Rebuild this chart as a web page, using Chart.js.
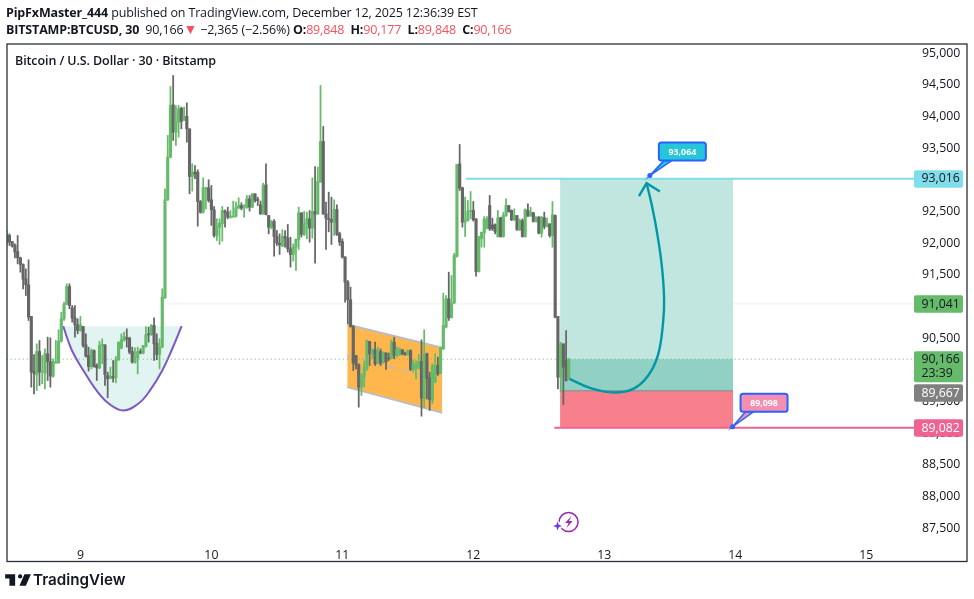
<!DOCTYPE html>
<html><head><meta charset="utf-8">
<script src="https://cdn.jsdelivr.net/npm/chart.js@4"></script>
<style>
html,body{margin:0;padding:0;background:#fff;width:974px;height:599px;overflow:hidden}
#wrap{position:relative;width:974px;height:599px}
canvas{position:absolute;left:0;top:0}
.t{position:absolute;white-space:nowrap;font-family:"Open Sans",sans-serif;color:#131722}
.t b{font-weight:700}.r{color:#f7525f}
</style></head><body>
<div id="wrap">
<canvas id="c" width="974" height="599"></canvas>
<div class="t" style="left:6px;top:4px;font-size:12.5px;line-height:18px;letter-spacing:-.15px"><b>PipFxMaster_444</b> published on TradingView.com, December 12, 2025 12:36:39 EST</div>
<div class="t" style="left:6px;top:21px;font-size:12.5px;line-height:18px;letter-spacing:-.15px"><b>BITSTAMP:BTCUSD, 30</b>&nbsp; 90,166<span class="r" style="font-size:14px;line-height:14px">▼</span> −2,365 (−2.56%) <b>O:</b><span class="r">89,848</span> &nbsp;<b>H:</b><span class="r">90,177</span> &nbsp;<b>L:</b><span class="r">89,848</span> &nbsp;<b>C:</b><span class="r">90,166</span></div>
<div class="t" style="left:15px;top:52px;font-size:12.5px;line-height:18px;font-weight:600;letter-spacing:-.1px">Bitcoin / U.S. Dollar · 30 · Bitstamp</div>
<svg style="position:absolute;left:5px;top:570px" width="26" height="20" viewBox="0 0 36 28"><path fill="#131722" d="M14 6H0v6h6v10h8V6zm15 16h-9l7-16h9l-7 16zm-8-10a3 3 0 1 0 0-6 3 3 0 0 0 0 6z"/></svg>
<div class="t" style="left:33px;top:570px;font-family:Inter,sans-serif;font-size:15.2px;line-height:20px;font-weight:600">TradingView</div>
</div>
<script>
// Candle number of the first bar, counted in 30-minute bars from 9 Dec 00:00
const firstBar = -27;
const opens = [92013,92119,92024,91961,91866,91766,91661,91435,91340,90840,89971,89919,90287,89961,89945,90250,90129,89898,90103,90108,90450,90803,91029,91313,90977,90819,90708,90619,90682,90393,90224,90050,90303,90066,90029,90382,90393,89908,89866,89893,89871,90156,90340,90461,90498,90498,90287,90119,90187,90287,90261,90371,90566,90556,90698,90419,90240,90356,91135,92682,93356,94182,93750,93908,94129,93935,93998,93803,93050,93119,93119,92656,92487,92856,92871,92682,92524,92119,92250,92303,92503,92487,92408,92408,92424,92556,
92592,92582,92556,92698,92566,92777,92682,92603,92461,92919,92435,92250,92340,92103,91998,91950,92103,92077,91908,91819,91935,92056,92477,92135,92303,92382,92235,92498,92456,92961,93603,92461,92382,92371,92329,92529,92145,92024,91777,91382,91103,90682,90224,90077,89724,89882,90013,90445,90250,90314,90103,90287,90119,90266,90187,90182,90435,90224,90240,90314,90250,90240,90303,90003,90024,90024,90129,89540,90250,89871,89514,89803,90066,89950,90329,90671,91119,90819,91056,91792,93250,92871,92329,92356,92498,92513,92382,91550,
92066,92160,92234,92592,92287,92287,92102,92397,92102,92434,92592,92513,92365,92434,92208,92355,92102,92513,92434,92476,92344,92408,92155,92397,92260,92302,92118,92434,90840,89881,90408,90145,89848];
const highs = [92198,92145,92024,91987,92119,91777,91671,91592,91735,90840,90240,90408,90461,90224,90329,90514,90503,90172,90461,90630,90908,91066,91356,91356,91013,91013,90803,90840,90682,90566,90356,90329,90314,90093,90450,90487,90393,89961,90040,90145,90208,90435,90566,90593,90645,90514,90356,90345,90356,90329,90382,90682,90671,90714,90819,90566,90487,91277,92856,93698,94471,94645,94171,94171,94145,94145,94213,93803,93250,93224,93156,92671,93029,92882,92998,92908,92577,92382,92382,92577,92524,92566,92513,92661,92645,92714,
92635,92603,92750,92750,92777,92777,92724,92661,92945,93250,92435,92356,92371,92198,92145,92208,92198,92292,92093,91987,92066,92566,92477,92498,92487,92513,93029,93208,93198,94487,93840,92645,92803,92724,92682,92603,92171,92066,91787,91408,91303,90698,90224,90093,89935,90135,90471,90445,90329,90435,90356,90329,90277,90266,90261,90471,90514,90356,90345,90314,90277,90314,90314,90156,90145,90240,90471,90630,90261,89961,90093,90250,90198,90356,91208,91171,91540,91487,91840,93240,93556,92882,92724,92671,92813,92656,92382,92103,
92171,92418,92418,92750,92392,92302,92513,92408,92487,92697,92592,92523,92539,92434,92381,92381,92539,92618,92565,92487,92418,92418,92418,92487,92397,92302,92655,92444,90840,90434,90408,90618,90177];
const lows = [91961,91961,91935,91766,91671,91540,91277,91171,90777,89724,89619,89672,89750,89777,89698,89829,89724,89882,90103,90103,90435,90777,91029,90961,90750,90514,90566,90608,90356,90198,89977,90013,90040,89829,90013,90093,89750,89556,89856,89803,89793,90145,90329,90450,90356,90250,90103,90103,89935,90250,90250,90356,90435,90540,90145,90156,90013,90345,91124,92671,93345,93619,93540,93671,93803,93935,93592,92777,92819,93014,92266,92471,92471,92540,92645,92277,92093,92040,91977,92029,92250,92382,92392,92408,92408,92540,
92524,92408,92550,92503,92556,92645,92592,92450,92450,92445,92145,92224,91792,91961,91819,91945,91935,91856,91619,91714,91566,91898,92093,92119,92066,92013,92077,91682,92456,92961,92450,91898,92177,91977,92119,92119,91961,91761,91066,90724,90671,89987,90013,89408,89593,89724,89987,90066,90172,90066,90093,90066,90103,90003,90145,90172,90172,90198,90224,90235,90224,90224,89987,89961,89856,90013,89266,89398,89540,89356,89461,89793,89908,89935,90319,90661,90777,90819,91040,91777,92829,92250,92103,92345,92382,92345,91477,91540,
91934,91934,92223,92197,92197,92144,92092,92092,92092,92418,92487,92355,92355,92197,92197,92092,92092,92418,92418,92329,92329,92144,92092,92223,92250,92092,91934,90818,89697,89644,89450,89818,89848];
const closes = [92135,92013,91950,91856,91766,91661,91429,91340,90829,89961,89945,90287,89961,89971,90250,90129,89898,90129,90119,90450,90803,91029,91313,91013,90814,90708,90619,90708,90382,90213,90050,90303,90050,90029,90382,90393,89924,89856,89893,89871,90156,90435,90471,90524,90487,90277,90119,90198,90287,90266,90382,90550,90550,90698,90408,90240,90356,91145,92682,93356,94171,93750,93908,94119,93919,93998,93803,93050,93119,93092,92656,92487,92871,92871,92671,92524,92119,92261,92313,92513,92487,92408,92424,92424,92556,92592,
92550,92592,92698,92566,92777,92671,92671,92461,92908,92450,92250,92340,92103,91998,91971,92103,92077,91908,91819,91935,92056,92477,92135,92303,92382,92235,92498,92456,92971,93603,92461,92392,92371,92329,92529,92135,92013,91777,91382,91103,90682,90103,90077,89724,89908,90040,90461,90250,90314,90093,90303,90103,90277,90119,90172,90435,90224,90314,90324,90245,90240,90303,90003,90093,90093,90129,89551,90250,89866,89524,90066,90066,89935,90340,90698,91119,90819,91056,91803,93240,92866,92329,92366,92503,92513,92366,91550,92103,
92171,92381,92381,92223,92223,92181,92397,92102,92434,92592,92497,92365,92434,92213,92355,92102,92529,92423,92487,92344,92408,92155,92408,92260,92313,92118,92444,90829,89881,90408,90039,89829,90166];

// Day labels: one every 48 bars
const dayNumbers = [9,10,11,12,13,14,15];
const barsPerDay = 48;
const yTicks = [87500,88000,88500,89000,89500,90000,90500,91000,91500,92000,92500,93000,93500,94000,94500,95000];

// Drawings, in chart units (bar number, price)
const cupBars   = [-6.3,-3.1,1.1,5.9,10.5,15.7,21.2,25.5,30,33.4,37.1];
const cupPrices = [90687,90303,89987,89672,89461,89356,89461,89672,89987,90303,90687];
const channelBars = [97.8,132.6];
const channelTop = [90714,90345];
const channelMid = [90224,89819];
const channelBot = [89724,89319];
const boxBars = [175.8,239.2];
const targetPrice = 93016, entryPrice = 89667, stopPrice = 89082, lastPrice = 90166, levelPrice = 91041;
const targetLineBars = [141.3,305.5];
const stopLineBars = [173.7,305.5];
const levelLineBars = [31.3,305.5];
const lastLineBars = [-27,305.5];
const arrowBars   = [179.2,186.7,195.3,202.6,208.1,211.8,213.6,213.9,213,211.2,209.3,207.5];
const arrowPrices = [89855,89713,89639,89697,89908,90250,90776,91144,91671,92197,92618,92944];
const headBars   = [204.7,207.5,212.4];
const headPrices = [92739,92944,92813];
const noteBars   = [208.7,239];
const notePrices = [93064,89098];
const noteTexts  = ["93,064","89,098"];
const tagPrices = [93016,91041,90166,89667,89082];
const tagTexts  = ["93,016","91,041","90,166","89,667","89,082"];
const iconBar = 178.9, iconPrice = 87594;

const UP="#66bb6a", DOWN="#666666";
const colors = closes.map((c,i)=> c>=opens[i] ? UP : DOWN);
const pts=(xs,ys)=>xs.map((x,i)=>({x,y:ys[i]}));
const flat=(xs,v)=>xs.map(x=>({x,y:v}));
const base={type:'line',pointRadius:0,pointHoverRadius:0,fill:false,borderWidth:2};
const FONT='"Open Sans",sans-serif';

const tagStyle=[
 {bg:"#80deea",fg:"#131722",dy:0},
 {bg:"#66bb6a",fg:"#131722",dy:0},
 {bg:"#66bb6a",fg:"#131722",top:-8,h:31,sub:"23:39"},
 {bg:"#808080",fg:"#ffffff",dy:2},
 {bg:"#f06292",fg:"#ffffff",dy:0}
];
const noteStyle=[{bg:"#26c6da",dx:9,dy:-33},{bg:"#f48fb1",dx:8,dy:-33}];

const overlay={id:'overlay',afterDraw(ch){
  const g=ch.ctx,X=ch.scales.x,Y=ch.scales.y;
  g.save();
  // callouts
  noteBars.forEach((b,i)=>{
    const x=X.getPixelForValue(b),y=Y.getPixelForValue(notePrices[i]),s=noteStyle[i];
    const bx=x+s.dx,by=y+s.dy,w=47,h=18;
    g.beginPath();g.moveTo(x,y);g.lineTo(bx+5,by+h);g.lineTo(bx+13,by+h);g.closePath();
    g.fillStyle=s.bg;g.strokeStyle="#2962ff";g.lineWidth=1.5;g.fill();g.stroke();
    g.beginPath();g.roundRect(bx,by,w,h,2.5);g.fillStyle=s.bg;g.fill();g.lineWidth=2;g.stroke();
    g.fillStyle="#fff";g.font='700 8.8px '+FONT;g.textAlign='center';g.textBaseline='middle';
    g.fillText(noteTexts[i],bx+w/2,by+h/2+.5);
    g.beginPath();g.arc(x,y,2.5,0,7);g.fillStyle="#2962ff";g.fill();
  });
  // icon
  const ix=X.getPixelForValue(iconBar),iy=Y.getPixelForValue(iconPrice);
  g.beginPath();g.arc(ix,iy,9.5,0,7);g.strokeStyle="#9c27b0";g.lineWidth=1.5;g.stroke();
  g.beginPath();g.moveTo(ix+3,iy-6);g.lineTo(ix-3.5,iy+1);g.lineTo(ix,iy+1);g.lineTo(ix-2,iy+6);g.lineTo(ix+4,iy-1);g.lineTo(ix+.5,iy-1);g.closePath();
  g.fillStyle="#9c27b0";g.fill();
  const sx=ix-11,sy=iy+4;
  g.beginPath();g.arc(sx,sy,4.5,0,7);g.fillStyle="#fff";g.fill();
  g.beginPath();g.moveTo(sx,sy-4.5);g.lineTo(sx+1.2,sy-1.2);g.lineTo(sx+4.5,sy);g.lineTo(sx+1.2,sy+1.2);g.lineTo(sx,sy+4.5);g.lineTo(sx-1.2,sy+1.2);g.lineTo(sx-4.5,sy);g.lineTo(sx-1.2,sy-1.2);g.closePath();
  g.fillStyle="#6a3df0";g.fill();
  // price tags
  tagPrices.forEach((p,i)=>{
    const s=tagStyle[i],y=Y.getPixelForValue(p);
    const top=s.top!==undefined?y+s.top:y-8.5+s.dy,h=s.h||17.5;
    g.beginPath();g.roundRect(914,top,49,h,2);g.fillStyle=s.bg;g.fill();
    g.fillStyle=s.fg;g.font='12.3px '+FONT;g.textAlign='left';g.textBaseline='middle';
    g.fillText(tagTexts[i],921.5,top+8.8);
    if(s.sub)g.fillText(s.sub,921.5,top+22.3);
  });
  // frame
  g.strokeStyle="#2a2e39";g.lineWidth=1.3;g.strokeRect(7,44,960,517.5);
  g.restore();
}};

new Chart(document.getElementById('c'),{
  type:'bar',
  plugins:[overlay],
  data:{datasets:[
    {...base,label:'Cup',order:30,data:pts(cupBars,cupPrices),tension:.4,borderColor:"#7e57c2",backgroundColor:"#e2f4f1",fill:{value:cupPrices[0]}},
    {...base,label:'Channel top',order:29,data:pts(channelBars,channelTop),borderColor:"#bdbdbd",backgroundColor:"#ffb74d",fill:'+1'},
    {...base,label:'Channel bottom',order:28,data:pts(channelBars,channelBot),borderColor:"#bdbdbd"},
    {...base,label:'Channel mid',order:27,data:pts(channelBars,channelMid),borderColor:"#c9bba5",borderDash:[8,6]},
    {...base,label:'Target zone',order:26,data:flat(boxBars,targetPrice),borderWidth:0,backgroundColor:"#c1e6df",fill:{value:entryPrice}},
    {...base,label:'Open profit',order:25,data:flat(boxBars,lastPrice),borderWidth:0,backgroundColor:"#91d1c4",fill:{value:entryPrice}},
    {...base,label:'Stop zone',order:24,data:flat(boxBars,entryPrice),borderWidth:1,borderColor:"#7a8f8a",backgroundColor:"#f7808c",fill:{value:stopPrice}},
    {...base,label:'Level',order:31,data:flat(levelLineBars,levelPrice),borderColor:"#f4f7f2"},
    {...base,label:'Last',order:22,data:flat(lastLineBars,lastPrice),borderWidth:1,borderColor:UP,borderDash:[1,3]},
    {...base,label:'Wicks',type:'bar',order:6,grouped:false,barThickness:1.1,backgroundColor:colors,borderWidth:0,data:closes.map((c,i)=>({x:firstBar+i,y:[lows[i],highs[i]]}))},
    {...base,label:'Bodies',type:'bar',order:5,grouped:false,barThickness:2.5,minBarLength:1,backgroundColor:colors,borderWidth:0,data:closes.map((c,i)=>({x:firstBar+i,y:[Math.min(c,opens[i]),Math.max(c,opens[i])]}))},
    {...base,label:'Target',order:3,data:flat(targetLineBars,targetPrice),borderColor:"#80deea"},
    {...base,label:'Stop',order:3,data:flat(stopLineBars,stopPrice),borderColor:"#f06292"},
    {...base,label:'Arrow',order:2,data:pts(arrowBars,arrowPrices),tension:.4,borderWidth:2.4,borderColor:"#0097a7"},
    {...base,label:'Arrow head',order:1,data:pts(headBars,headPrices),borderWidth:2.4,borderColor:"#0097a7"}
  ]},
  options:{
    responsive:false,animation:false,devicePixelRatio:1,
    layout:{padding:{left:7,top:44,right:7,bottom:38}},
    plugins:{legend:{display:false},tooltip:{enabled:false},title:{display:false}},
    events:[],
    scales:{
      x:{type:'linear',offset:false,min:-26.9,max:305.5,
        grid:{display:false},border:{display:false},
        afterFit(s){s.height=25},
        afterBuildTicks(s){s.ticks=dayNumbers.map((d,i)=>({value:i*barsPerDay}))},
        ticks:{autoSkip:false,maxRotation:0,padding:4,color:"#131722",font:{family:FONT,size:12.3},
          callback:(v,i)=>String(dayNumbers[i])}},
      y:{type:'linear',position:'right',min:87374,max:95142,
        grid:{display:false,drawTicks:false},border:{display:false},
        afterFit(s){s.width=53},
        afterBuildTicks(s){s.ticks=yTicks.map(v=>({value:v}))},
        ticks:{autoSkip:false,padding:8,color:"#131722",font:{family:FONT,size:12.3},
          callback:v=>v.toLocaleString('en-US')}}
    }
  }
});
</script>
</body></html>
